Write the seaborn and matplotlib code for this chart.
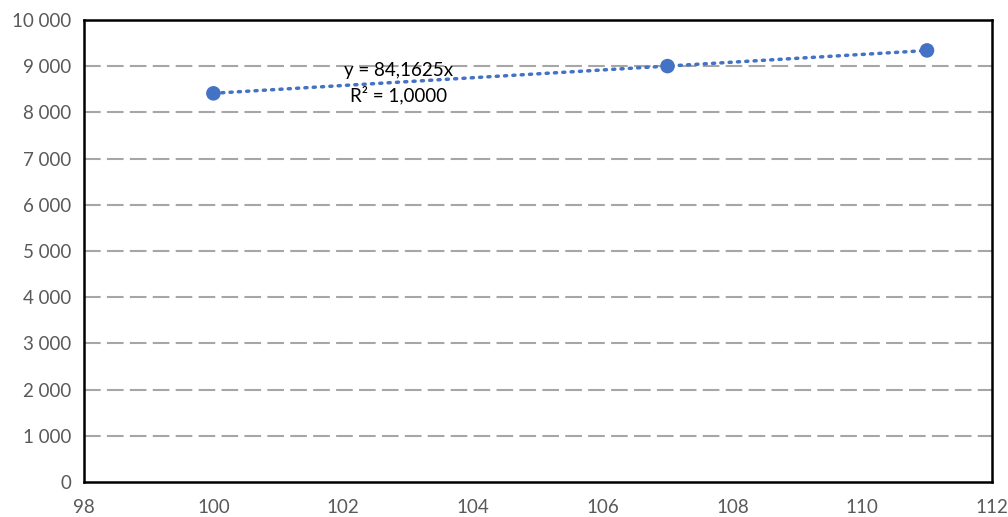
import numpy as np
import pandas as pd
import matplotlib.pyplot as plt
import matplotlib.ticker as mticker
import seaborn as sns

# values
x_vals = [100, 107, 111]
y_vals = [8415, 9005, 9345]
x_ticks = [98, 100, 102, 104, 106, 108, 110, 112]
y_ticks = list(range(0, 10001, 1000))
eq_label = "y = 84,1625x"
r2_label = "R² = 1,0000"

df = pd.DataFrame({"x": x_vals, "y": y_vals})

sns.set_style("white")
plt.rcParams["font.family"] = ["Lato", "DejaVu Sans"]

fig, ax = plt.subplots(figsize=(10.08, 5.17), dpi=100)
fig.subplots_adjust(left=0.083, right=0.984, top=0.961, bottom=0.068)

# linear trend through origin
x = np.array(x_vals, dtype=float)
y = np.array(y_vals, dtype=float)
slope = (x * y).sum() / (x * x).sum()
tx = np.array([x.min(), x.max()])
ax.plot(tx, slope * tx, color="#4472C4", linestyle=(0, (0.6, 1.8)),
        linewidth=2.5, dash_capstyle="round", zorder=2)

sns.scatterplot(data=df, x="x", y="y", ax=ax, color="#4472C4", s=110,
                edgecolor="none", zorder=3)

ax.set_xlim(98, 112)
ax.set_ylim(0, 10000)
ax.set_xticks(x_ticks)
ax.set_yticks(y_ticks)
ax.yaxis.set_major_formatter(mticker.FuncFormatter(lambda v, p: f"{int(v):,}".replace(",", " ")))
ax.set_xlabel("")
ax.set_ylabel("")
ax.tick_params(axis="both", length=0, labelsize=13.5, labelcolor="#595959")
ax.tick_params(axis="x", pad=12)
ax.tick_params(axis="y", pad=9)

for gy in y_ticks[1:-1]:
    ax.axhline(gy, color="#A6A6A6", linewidth=1.5, linestyle=(0, (8, 3)), zorder=1)

for side in ax.spines.values():
    side.set_visible(True)
    side.set_color("black")
    side.set_linewidth(1.8)

ax.text(102.85, 8910, eq_label, ha="center", va="center", fontsize=13.5, color="black")
ax.text(102.85, 8380, r2_label, ha="center", va="center", fontsize=13.5, color="black")

plt.savefig("out.png", dpi=100)
plt.close()
